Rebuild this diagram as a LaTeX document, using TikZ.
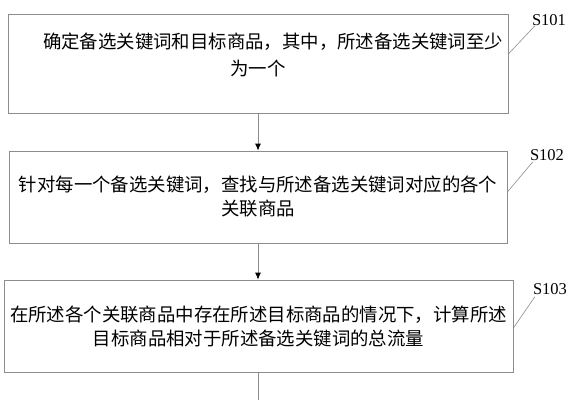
\documentclass[tikz,border=0pt]{standalone}
\usepackage{fontspec}
\setmainfont{Liberation Serif}
\newfontfamily\cjk{Noto Sans CJK SC}
\usepackage{tikz}
\usetikzlibrary{calc,arrows.meta,positioning}
\definecolor{linegray}{RGB}{140,140,140}

\begin{document}
\begin{tikzpicture}
	[   x=1pt,y=-1pt,
		stepbox/.style={draw=linegray,line width=0.8pt,minimum width=#1,minimum height=92pt,inner sep=0pt,align=center,font=\cjk\fontsize{18.4}{24}\selectfont},
		steplabel/.style={inner sep=0pt,font=\fontsize{16.5}{16.5}\selectfont},
		leader/.style={draw=linegray,line width=0.6pt},
	]
	\tikzset{normal arrow/.style={draw=linegray,line width=0.8pt,-{Latex[length=7pt,width=6pt,color=black]}}}
	\useasboundingbox (0,0) rectangle (573,400);
	
	\node[stepbox=500pt,minimum height=99pt] (b1) at (258,63.5) {\hspace*{30pt}确定备选关键词和目标商品，其中，所述备选关键词至少\\[3pt]为一个\\[-6pt]\mbox{}};
	\node[stepbox=498pt] (b2) at (258,197) {针对每一个备选关键词，查找与所述备选关键词对应的各个\\关联商品};
	\node[stepbox=509pt] (b3) at (258.5,326) {在所述各个关联商品中存在所述目标商品的情况下，计算所述\\目标商品相对于所述备选关键词的总流量};
	
	\node[steplabel] (s1) at (549,20) {S101};
	\node[steplabel] (s2) at (547,155) {S102};
	\node[steplabel] (s3) at (550,289) {S103};
	
	\coordinate (end) at (258,400);
	
	\foreach \i/\j in {1/2,2/3}
	{
		\path[normal arrow] (b\i.south -| end) -- (b\j.north -| end);
	}
	\draw[linegray,line width=0.8pt] (b3.south -| end) -- (end);
	
	\path[leader] ([yshift=9.5pt]b1.east) -- ([xshift=3pt]s1.south west);
	\path[leader] ([yshift=5pt]b2.east) -- ([xshift=3pt,yshift=-1pt]s2.south west);
	\path[leader] ([yshift=-2pt]b3.east) -- ([xshift=2pt,yshift=-2pt]s3.south west);
\end{tikzpicture}
\end{document}
